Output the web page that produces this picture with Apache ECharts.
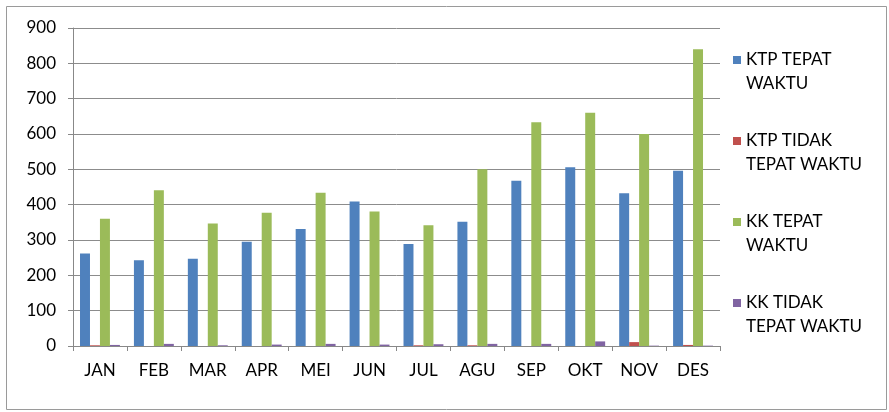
<!DOCTYPE html>
<html>
<head>
<meta charset="utf-8">
<script src="https://cdn.jsdelivr.net/npm/echarts@6/dist/echarts.min.js"></script>
<style>html,body{margin:0;padding:0;background:#fff;}#c{width:889px;height:412px;}</style>
</head>
<body>
<div id="c"></div>
<script>
const categories = ['JAN','FEB','MAR','APR','MEI','JUN','JUL','AGU','SEP','OKT','NOV','DES'];
const seriesNames = ['KTP TEPAT WAKTU','KTP TIDAK TEPAT WAKTU','KK TEPAT WAKTU','KK TIDAK TEPAT WAKTU'];
const ktpTepat = [262, 243, 247, 295, 331, 409, 289, 352, 468, 506, 432, 496];
const ktpTidak = [2, 0, 0, 0, 0, 0, 2, 2, 0, 0, 11, 3];
const kkTepat = [360, 441, 347, 377, 434, 381, 342, 500, 633, 660, 600, 840];
const kkTidak = [3, 6, 2, 4, 6, 4, 5, 6, 6, 13, 1, 1];
const yTicks = [0, 900, 100];

const legendLabels = {
  'KTP TEPAT WAKTU': '\nKTP TEPAT\nWAKTU',
  'KTP TIDAK TEPAT WAKTU': '\nKTP TIDAK\nTEPAT WAKTU',
  'KK TEPAT WAKTU': '\nKK TEPAT\nWAKTU',
  'KK TIDAK TEPAT WAKTU': '\nKK TIDAK\nTEPAT WAKTU'
};
const colors = ['#4F81BD','#C0504D','#9BBB59','#8064A2'];
const font = 'Lato, "Liberation Sans", sans-serif';
const data = [ktpTepat, ktpTidak, kkTepat, kkTidak];

const chart = echarts.init(document.getElementById('c'), null, {renderer:'canvas'});
chart.setOption({
  animation: false,
  color: colors,
  textStyle: {fontFamily: font},
  graphic: [{
    type: 'rect', left: 4, top: 4, shape: {width: 880, height: 403},
    style: {fill: 'none', stroke: '#9a9a9a', lineWidth: 1}, silent: true
  }],
  grid: {left: 73, right: 169, top: 28, bottom: 66, containLabel: false},
  legend: {
    orient: 'vertical', left: 728, top: 19, itemGap: 9,
    itemWidth: 8, itemHeight: 8, icon: 'rect', itemStyle: {borderWidth: 0},
    formatter: n => legendLabels[n],
    textStyle: {fontSize: 17, color: '#000', lineHeight: 24, fontFamily: font},
    data: seriesNames
  },
  xAxis: {
    type: 'category', data: categories,
    axisLine: {lineStyle: {color: '#888'}},
    axisTick: {show: true, length: 5, lineStyle: {color: '#888'}},
    axisLabel: {color: '#000', fontSize: 17, margin: 16, fontFamily: font}
  },
  yAxis: {
    type: 'value', min: yTicks[0], max: yTicks[1], interval: yTicks[2],
    axisLine: {show: true, lineStyle: {color: '#888'}},
    axisTick: {show: true, length: 5, lineStyle: {color: '#888'}},
    axisLabel: {color: '#000', fontSize: 17, margin: 17, fontFamily: font},
    splitLine: {lineStyle: {color: '#8c8c8c'}}
  },
  series: seriesNames.map((n, i) => ({
    name: n, type: 'bar', data: data[i],
    barGap: '0%', barCategoryGap: '26%'
  }))
});
</script>
</body>
</html>
